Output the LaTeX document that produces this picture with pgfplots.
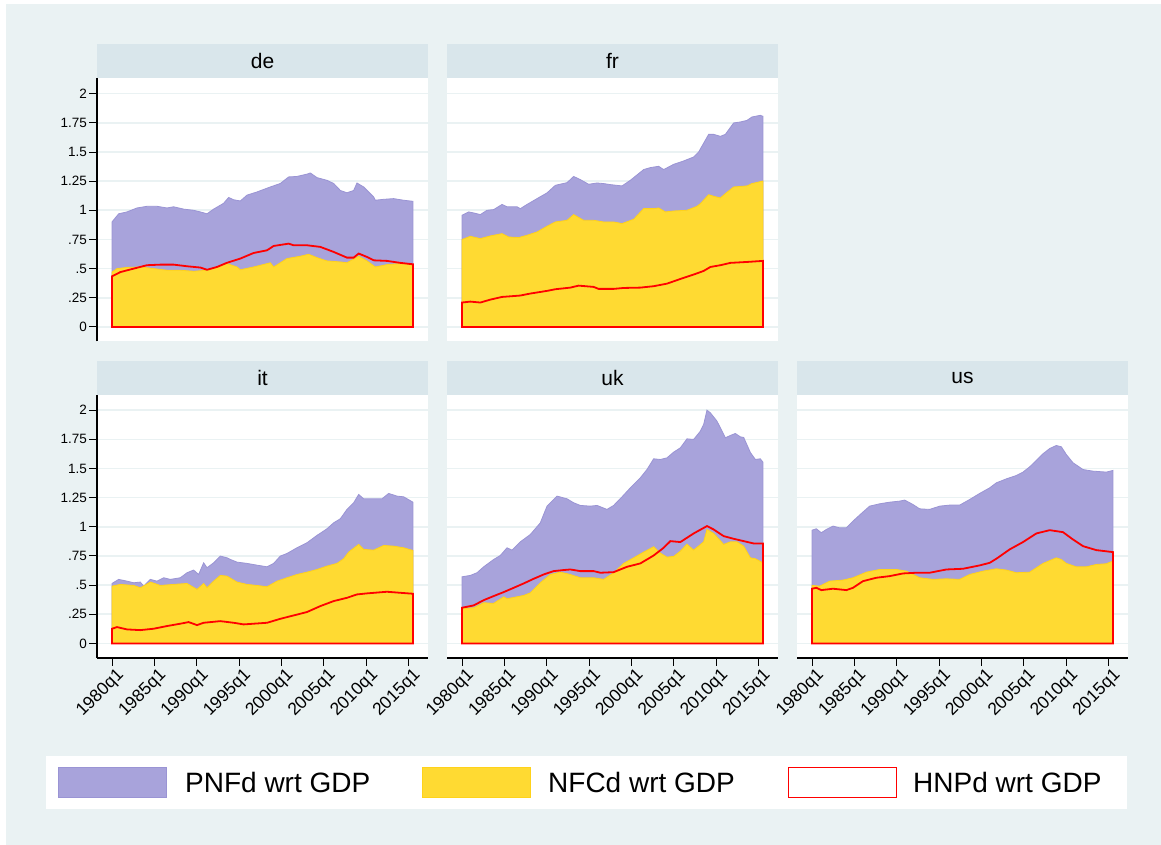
\documentclass[border=0pt]{standalone}
\usepackage{fontspec}
\setmainfont{Liberation Sans}
\usepackage{pgfplots}
\pgfplotsset{compat=1.18}
\definecolor{bgc}{HTML}{EAF2F3}
\definecolor{hdr}{HTML}{D9E6EB}
\definecolor{pnf}{HTML}{A8A3DB}
\definecolor{pnfe}{HTML}{9A94D4}
\definecolor{nfc}{HTML}{FFDA32}
\definecolor{nfce}{HTML}{FFD21A}
\definecolor{gridc}{HTML}{EAF2F3}
\pgfplotsset{
 panel/.style={
  scale only axis, width=331pt, height=263pt,
  xmin=1978.23, xmax=2017.28, ymin=-0.125, ymax=2.13,
  axis line style={draw=none},
  axis background/.style={fill=white},
  clip=false,
  ytick={0,0.25,0.5,0.75,1,1.25,1.5,1.75,2},
  yticklabels={0,.25,.5,.75,1,1.25,1.5,1.75,2},
  ymajorgrids, grid style={draw=gridc, line width=1.6pt},
  tick align=outside, xtick pos=bottom, ytick pos=left,
  major tick length=8pt,
  tick style={black, line width=0.9pt},
  yticklabel style={font=\fontsize{13.5}{15}\selectfont, text=black, inner sep=2pt},
  xtick={1980,1985,...,2015},
  xticklabels={1980q1,1985q1,1990q1,1995q1,2000q1,2005q1,2010q1,2015q1},
  xticklabel style={font=\fontsize{17.5}{19}\selectfont, text=black, rotate=45, anchor=north east, inner sep=1pt, xshift=3pt, yshift=-2pt},
 },
 noy/.style={yticklabels={}, ytick style={draw=none}},
 nox/.style={xtick=\empty},
 pnfplot/.style={fill=pnf, draw=pnfe, line width=0.8pt},
 nfcplot/.style={fill=nfc, draw=nfce, line width=0.8pt},
 hnpplot/.style={draw=red, line width=1.8pt, fill=none},
}
\begin{document}
\begin{tikzpicture}
\begin{scope}[x=1pt,y=1pt]
\fill[white] (0,0) rectangle (1161,845);
\fill[bgc] (6,0) rectangle (1161,841);
\end{scope}
% ---------------- de
\begin{axis}[panel, nox, at={(97pt,503.5pt)}, anchor=south west]
\addplot[pnfplot] coordinates {(1980.00,0.90)(1980.79,0.97)(1981.77,0.986)(1982.95,1.02)(1984.13,1.034)(1985.31,1.034)(1986.49,1.02)(1987.27,1.03)(1988.45,1.01)(1989.63,1.0)(1990.42,0.986)(1991.21,0.97)(1991.99,1.01)(1993.17,1.06)(1993.76,1.11)(1994.35,1.09)(1995.14,1.08)(1995.93,1.13)(1997.10,1.157)(1998.68,1.2)(1999.86,1.23)(2000.84,1.286)(2001.82,1.29)(2003.00,1.31)(2003.40,1.32)(2004.18,1.28)(2005.36,1.257)(2006.15,1.23)(2006.94,1.17)(2007.72,1.15)(2008.51,1.17)(2008.90,1.234)(2009.69,1.2)(2010.87,1.114)(2011.07,1.086)(2012.05,1.094)(2013.23,1.1)(2014.41,1.086)(2015.5,1.077)} \closedcycle;
\addplot[nfcplot] coordinates {(1980.00,0.47)(1980.59,0.50)(1981.77,0.51)(1983.34,0.514)(1984.92,0.50)(1986.49,0.486)(1988.06,0.486)(1989.63,0.477)(1991.21,0.486)(1992.39,0.514)(1993.57,0.543)(1994.75,0.514)(1995.14,0.49)(1996.71,0.514)(1998.68,0.55)(1999.07,0.514)(2000.64,0.586)(2002.22,0.606)(2003.20,0.623)(2004.18,0.594)(2005.36,0.566)(2006.94,0.557)(2007.72,0.55)(2009.10,0.606)(2010.08,0.566)(2011.07,0.514)(2012.44,0.534)(2014.02,0.543)(2015.5,0.534)} \closedcycle;
\addplot[hnpplot] coordinates {(1980.00,0.434)(1980.98,0.47)(1982.56,0.50)(1984.13,0.529)(1985.70,0.534)(1987.27,0.534)(1988.85,0.52)(1990.42,0.509)(1991.21,0.49)(1992.39,0.514)(1993.57,0.55)(1995.14,0.586)(1996.71,0.634)(1998.29,0.657)(1999.07,0.694)(2000.84,0.714)(2001.43,0.70)(2003.00,0.70)(2004.58,0.686)(2006.15,0.643)(2007.72,0.594)(2008.51,0.594)(2009.10,0.629)(2010.08,0.60)(2010.87,0.571)(2012.44,0.566)(2014.02,0.549)(2015.5,0.537)} \closedcycle;
\draw[black, line width=1.1pt] (rel axis cs:0,0) -- (rel axis cs:0,1);
\end{axis}
% ---------------- fr
\begin{axis}[panel, nox, noy, at={(447pt,503.5pt)}, anchor=south west]
\addplot[pnfplot] coordinates {(1980.00,0.957)(1980.79,0.986)(1981.38,0.977)(1982.16,0.963)(1982.95,1.0)(1983.74,1.006)(1984.72,1.05)(1985.31,1.03)(1986.49,1.03)(1986.88,1.014)(1987.67,1.05)(1988.85,1.10)(1990.03,1.149)(1991.01,1.214)(1992.39,1.237)(1993.17,1.29)(1993.96,1.263)(1994.94,1.223)(1995.93,1.234)(1996.71,1.229)(1997.50,1.22)(1998.88,1.209)(1999.86,1.257)(2001.43,1.349)(2002.22,1.366)(2003.20,1.377)(2003.79,1.349)(2004.97,1.394)(2006.15,1.423)(2007.33,1.457)(2007.92,1.50)(2009.10,1.651)(2009.69,1.651)(2010.48,1.634)(2011.07,1.651)(2012.05,1.749)(2012.84,1.757)(2013.62,1.771)(2014.21,1.80)(2015.19,1.814)(2015.5,1.806)} \closedcycle;
\addplot[nfcplot] coordinates {(1980.00,0.749)(1980.98,0.777)(1982.16,0.757)(1983.34,0.78)(1984.72,0.80)(1985.51,0.771)(1986.69,0.766)(1987.67,0.786)(1988.85,0.814)(1990.03,0.863)(1991.01,0.90)(1992.39,0.914)(1993.17,0.963)(1994.35,0.914)(1995.53,0.914)(1996.71,0.90)(1997.89,0.90)(1998.88,0.886)(2000.25,0.923)(2001.43,1.014)(2002.61,1.014)(2003.20,1.02)(2003.99,0.986)(2004.97,0.994)(2006.54,1.0)(2007.72,1.034)(2008.12,1.057)(2009.10,1.134)(2009.69,1.12)(2010.48,1.106)(2011.07,1.143)(2012.05,1.20)(2013.62,1.209)(2014.21,1.229)(2015.5,1.251)} \closedcycle;
\addplot[hnpplot] coordinates {(1980.00,0.209)(1980.98,0.217)(1982.16,0.209)(1983.34,0.234)(1984.72,0.257)(1986.88,0.269)(1988.06,0.286)(1990.03,0.309)(1991.01,0.323)(1992.78,0.337)(1993.76,0.354)(1995.53,0.343)(1996.12,0.326)(1997.89,0.326)(1999.07,0.334)(2001.04,0.337)(2002.61,0.349)(2004.18,0.371)(2005.76,0.411)(2007.33,0.449)(2008.51,0.48)(2009.30,0.514)(2010.48,0.529)(2011.66,0.549)(2013.62,0.557)(2015.5,0.566)} \closedcycle;
\end{axis}
% ---------------- it
\begin{axis}[panel, at={(97pt,187pt)}, anchor=south west]
\addplot[pnfplot] coordinates {(1980.00,0.514)(1980.79,0.549)(1981.77,0.534)(1982.56,0.52)(1983.34,0.526)(1983.74,0.491)(1984.52,0.549)(1985.31,0.534)(1986.10,0.563)(1986.88,0.549)(1988.06,0.563)(1988.85,0.606)(1989.63,0.629)(1990.22,0.591)(1990.81,0.691)(1991.21,0.649)(1991.99,0.691)(1992.78,0.749)(1993.57,0.734)(1993.96,0.72)(1994.75,0.697)(1995.93,0.686)(1997.10,0.671)(1998.29,0.657)(1999.07,0.686)(1999.86,0.749)(2000.64,0.771)(2001.82,0.82)(2003.00,0.863)(2004.18,0.926)(2005.36,0.983)(2006.15,1.034)(2006.94,1.069)(2007.72,1.149)(2008.51,1.206)(2009.10,1.277)(2009.69,1.24)(2010.87,1.24)(2011.85,1.24)(2012.64,1.286)(2013.62,1.263)(2014.41,1.257)(2015.5,1.211)} \closedcycle;
\addplot[nfcplot] coordinates {(1980.00,0.491)(1980.98,0.506)(1982.56,0.497)(1983.34,0.477)(1984.52,0.526)(1985.70,0.497)(1987.27,0.506)(1988.85,0.514)(1990.03,0.463)(1990.81,0.514)(1991.21,0.477)(1991.99,0.534)(1992.78,0.583)(1993.57,0.577)(1994.75,0.526)(1995.93,0.506)(1997.10,0.497)(1998.29,0.486)(1999.47,0.534)(2000.64,0.563)(2001.82,0.591)(2003.00,0.611)(2004.18,0.634)(2005.36,0.663)(2006.54,0.686)(2007.33,0.726)(2007.92,0.783)(2009.10,0.849)(2009.69,0.806)(2010.87,0.80)(2012.05,0.84)(2013.23,0.834)(2014.41,0.82)(2015.5,0.797)} \closedcycle;
\addplot[hnpplot] coordinates {(1980.00,0.126)(1980.59,0.14)(1981.77,0.12)(1983.34,0.114)(1984.92,0.126)(1986.49,0.149)(1988.06,0.169)(1989.04,0.183)(1990.03,0.157)(1990.81,0.177)(1992.78,0.191)(1994.35,0.177)(1995.53,0.163)(1998.29,0.177)(1999.86,0.211)(2001.43,0.24)(2003.00,0.269)(2004.58,0.32)(2006.15,0.363)(2007.72,0.391)(2008.90,0.42)(2010.08,0.429)(2012.44,0.443)(2014.02,0.434)(2015.5,0.426)} \closedcycle;
\draw[black, line width=1.1pt] (rel axis cs:0,0) -- (rel axis cs:0,1);
\draw[black, line width=1.1pt] (rel axis cs:0,0) -- (rel axis cs:1,0);
\end{axis}
% ---------------- uk
\begin{axis}[panel, noy, at={(447pt,187pt)}, anchor=south west]
\addplot[pnfplot] coordinates {(1980.00,0.571)(1980.98,0.583)(1981.77,0.606)(1982.56,0.657)(1983.74,0.72)(1984.52,0.754)(1985.31,0.82)(1985.90,0.80)(1986.88,0.871)(1988.06,0.934)(1989.24,1.034)(1990.03,1.177)(1991.21,1.263)(1992.39,1.24)(1993.17,1.206)(1993.96,1.183)(1995.14,1.177)(1995.93,1.183)(1997.10,1.149)(1997.89,1.183)(1998.88,1.257)(1999.86,1.334)(2001.04,1.42)(2001.82,1.491)(2002.61,1.583)(2003.40,1.577)(2004.18,1.591)(2004.97,1.64)(2005.76,1.677)(2006.54,1.754)(2007.33,1.749)(2008.12,1.82)(2008.51,1.877)(2008.90,2.0)(2009.30,1.977)(2010.08,1.906)(2011.07,1.763)(2011.66,1.783)(2012.25,1.80)(2012.84,1.771)(2013.23,1.766)(2014.02,1.637)(2014.61,1.577)(2015.19,1.583)(2015.5,1.554)} \closedcycle;
\addplot[nfcplot] coordinates {(1980.00,0.297)(1981.38,0.306)(1982.56,0.349)(1983.74,0.343)(1984.92,0.40)(1985.31,0.383)(1986.49,0.40)(1987.27,0.411)(1988.06,0.434)(1989.24,0.52)(1990.42,0.591)(1991.60,0.611)(1992.78,0.591)(1993.96,0.563)(1995.53,0.563)(1996.71,0.549)(1997.89,0.606)(1999.07,0.686)(2000.25,0.734)(2001.43,0.783)(2002.61,0.829)(2003.40,0.774)(2004.18,0.74)(2004.97,0.746)(2005.76,0.791)(2006.54,0.851)(2007.33,0.80)(2008.51,0.871)(2008.90,0.977)(2009.69,0.943)(2010.87,0.849)(2011.66,0.871)(2012.44,0.871)(2013.23,0.834)(2014.02,0.734)(2014.61,0.726)(2015.5,0.691)} \closedcycle;
\addplot[hnpplot] coordinates {(1980.00,0.306)(1981.38,0.326)(1982.56,0.371)(1983.74,0.406)(1984.92,0.44)(1986.10,0.477)(1987.27,0.514)(1988.45,0.554)(1989.63,0.591)(1990.81,0.62)(1991.99,0.629)(1992.78,0.634)(1993.96,0.62)(1995.53,0.62)(1996.32,0.606)(1997.89,0.611)(1999.47,0.657)(2001.04,0.686)(2002.61,0.754)(2003.79,0.82)(2004.58,0.877)(2005.76,0.869)(2007.33,0.943)(2008.90,1.006)(2009.69,0.977)(2010.87,0.92)(2012.05,0.897)(2013.23,0.877)(2014.41,0.857)(2015.5,0.857)} \closedcycle;
\draw[black, line width=1.1pt] (rel axis cs:0,0) -- (rel axis cs:1,0);
\end{axis}
% ---------------- us
\begin{axis}[panel, noy, at={(797pt,187pt)}, anchor=south west]
\addplot[pnfplot] coordinates {(1980.00,0.971)(1980.51,0.983)(1981.10,0.949)(1981.69,0.977)(1982.48,1.006)(1983.26,0.991)(1984.05,0.991)(1984.84,1.049)(1985.82,1.114)(1986.80,1.177)(1987.98,1.197)(1989.16,1.211)(1990.34,1.22)(1990.93,1.229)(1991.91,1.191)(1992.70,1.154)(1993.88,1.149)(1995.06,1.177)(1996.24,1.186)(1997.42,1.186)(1998.60,1.234)(1999.78,1.286)(2000.96,1.334)(2001.75,1.377)(2002.93,1.411)(2004.11,1.44)(2004.89,1.469)(2005.68,1.514)(2006.47,1.569)(2007.25,1.626)(2008.04,1.671)(2008.82,1.697)(2009.41,1.686)(2010.00,1.62)(2010.79,1.549)(2011.97,1.491)(2013.15,1.477)(2014.33,1.471)(2014.72,1.469)(2015.5,1.483)} \closedcycle;
\addplot[nfcplot] coordinates {(1980.00,0.497)(1980.90,0.491)(1982.08,0.534)(1983.66,0.543)(1984.84,0.563)(1986.41,0.611)(1987.98,0.634)(1989.95,0.634)(1991.13,0.62)(1992.70,0.563)(1994.27,0.549)(1995.85,0.554)(1997.42,0.549)(1998.60,0.591)(2000.17,0.62)(2001.75,0.64)(2002.93,0.629)(2004.11,0.606)(2005.68,0.611)(2007.25,0.686)(2008.82,0.734)(2009.41,0.72)(2010.00,0.686)(2011.18,0.657)(2012.36,0.657)(2013.54,0.677)(2014.72,0.683)(2015.5,0.706)} \closedcycle;
\addplot[hnpplot] coordinates {(1980.00,0.469)(1980.51,0.477)(1981.10,0.457)(1982.48,0.469)(1984.05,0.457)(1984.84,0.477)(1986.02,0.534)(1987.59,0.563)(1989.16,0.577)(1990.74,0.60)(1992.31,0.606)(1993.88,0.606)(1995.85,0.634)(1997.81,0.64)(1999.78,0.669)(2000.96,0.691)(2001.75,0.726)(2003.32,0.806)(2004.89,0.869)(2006.47,0.943)(2008.04,0.971)(2009.61,0.954)(2010.79,0.891)(2011.97,0.834)(2013.54,0.80)(2015.5,0.783)} \closedcycle;
\draw[black, line width=1.1pt] (rel axis cs:0,0) -- (rel axis cs:1,0);
\end{axis}
% ---------------- headers and legend
\begin{scope}[x=1pt,y=1pt]
\begin{scope}[every node/.style={font=\fontsize{21}{24}\selectfont, text=black}]
\fill[hdr] (97,767) rectangle (428,801);   \node at (262.5,784) {de};
\fill[hdr] (447,767) rectangle (778,801);  \node at (612.5,784) {fr};
\fill[hdr] (97,450) rectangle (428,484);   \node at (262.5,467) {it};
\fill[hdr] (447,450) rectangle (778,484);  \node at (612.5,467) {uk};
\fill[hdr] (797,450) rectangle (1128,484); \node at (962.5,467) {us};
\end{scope}
\fill[white] (46,36) rectangle (1127,89);
\filldraw[fill=pnf, draw=pnfe, line width=1.5pt] (58.5,47.5) rectangle (166.5,77.5);
\filldraw[fill=nfc, draw=nfce, line width=1.5pt] (422.5,47.5) rectangle (530.5,77.5);
\filldraw[fill=white, draw=red, line width=1.5pt] (788.5,47.5) rectangle (896.5,77.5);
\begin{scope}[every node/.style={font=\fontsize{28}{32}\selectfont, text=black, anchor=west, inner sep=0pt}]
\node at (185,62.5) {PNFd wrt GDP};
\node at (548,62.5) {NFCd wrt GDP};
\node at (913,62.5) {HNPd wrt GDP};
\end{scope}
\end{scope}
\end{tikzpicture}
\end{document}
